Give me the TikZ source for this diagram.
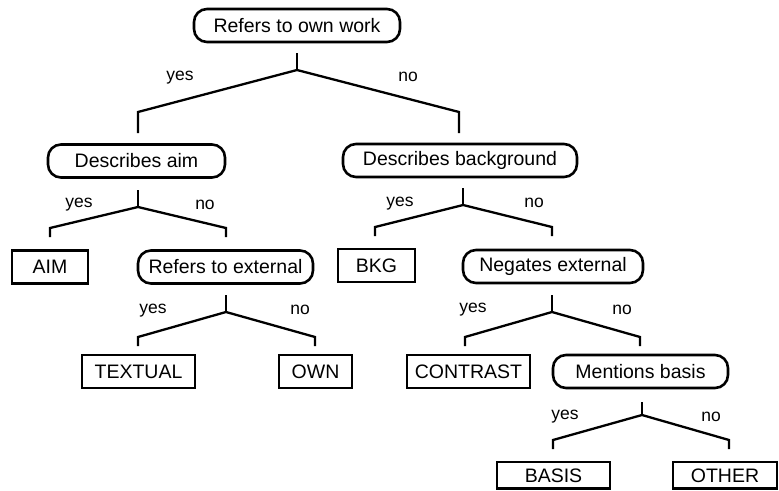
\documentclass[tikz,border=0pt]{standalone}
\usepackage{fontspec}
\setmainfont{Liberation Sans}
\begin{document}
\begin{tikzpicture}[x=1pt,y=-1pt,
  question/.style={draw, line width=2.6pt, rounded corners=13pt, inner sep=0pt,
    minimum height=33pt, font=\fontsize{19.5}{22}\selectfont},
  leaf/.style={draw, line width=2.6pt, inner sep=0pt,
    minimum height=33pt, font=\fontsize{19.5}{22}\selectfont},
  fork/.style={line width=2.3pt, line join=miter},
  answer/.style={font=\fontsize{17.5}{20}\selectfont, inner sep=0pt}]
\useasboundingbox (0,0) rectangle (779,490);

% decision nodes
\node[question, minimum width=206pt] (own)   at (297,25.5)   {Refers to own work};
\node[question, minimum width=177pt] (aim)   at (136.5,161)  {Describes aim};
\node[question, minimum width=234pt] (bg)    at (460,160.5)  {Describes background};
\node[question, minimum width=175pt] (ext)   at (225.5,267)  {Refers to external};
\node[question, minimum width=180pt] (neg)   at (553,266.5)  {Negates external};
\node[question, minimum width=175pt] (basq)  at (640.5,371.5){Mentions basis};

% category leaves
\node[leaf, minimum width=76pt]  (AIM)      at (50,267)     {AIM};
\node[leaf, minimum width=77pt]  (BKG)      at (376.5,265.5){BKG};
\node[leaf, minimum width=113pt] (TEXTUAL)  at (138.5,371.5){TEXTUAL};
\node[leaf, minimum width=73pt]  (OWN)      at (315.5,371.5){OWN};
\node[leaf, minimum width=123pt] (CONTRAST) at (468.5,371.5){CONTRAST};
\node[leaf, minimum width=113pt, minimum height=26.5pt] (BASIS) at (553.5,475.3){BASIS};
\node[leaf, minimum width=104pt, minimum height=26.5pt] (OTHER) at (725,475.3)  {OTHER};

% fork points below each decision
\coordinate (own-s) at (297,53);  \coordinate (own-j) at (297,70);
\coordinate (own-l) at (138,112); \coordinate (own-le) at (138,133);
\coordinate (own-r) at (459,112); \coordinate (own-re) at (459,133);

\coordinate (aim-s) at (138,190); \coordinate (aim-j) at (138,207);
\coordinate (aim-l) at (50,228);  \coordinate (aim-le) at (50,237);
\coordinate (aim-r) at (226,228); \coordinate (aim-re) at (226,237);

\coordinate (bg-s) at (463,188);  \coordinate (bg-j) at (463,205);
\coordinate (bg-l) at (375,227);  \coordinate (bg-le) at (375,236);
\coordinate (bg-r) at (552,227);  \coordinate (bg-re) at (552,236);

\coordinate (ext-s) at (226,295); \coordinate (ext-j) at (226,312);
\coordinate (ext-l) at (138,337); \coordinate (ext-le) at (138,346);
\coordinate (ext-r) at (315,337); \coordinate (ext-re) at (315,346);

\coordinate (neg-s) at (552,295); \coordinate (neg-j) at (552,312);
\coordinate (neg-l) at (465,337); \coordinate (neg-le) at (465,346);
\coordinate (neg-r) at (640,337); \coordinate (neg-re) at (640,346);

\coordinate (basq-s) at (642,402); \coordinate (basq-j) at (642,415);
\coordinate (basq-l) at (553,440); \coordinate (basq-le) at (553,449);
\coordinate (basq-r) at (729,440); \coordinate (basq-re) at (729,449);

% forks
\foreach \n in {own,aim,bg,ext,neg,basq}{
  \draw[fork] (\n-s) -- (\n-j);
  \draw[fork] (\n-le) -- (\n-l) -- (\n-j) -- (\n-r) -- (\n-re);
}

% branch answers
\node[answer] (own-yes)  at (180,78)  {yes};
\node[answer] (own-no)   at (408,77)  {no};
\node[answer] (aim-yes)  at (79,205)  {yes};
\node[answer] (aim-no)   at (205,205) {no};
\node[answer] (bg-yes)   at (400,204) {yes};
\node[answer] (bg-no)    at (534,203) {no};
\node[answer] (ext-yes)  at (153,311) {yes};
\node[answer] (ext-no)   at (300,310) {no};
\node[answer] (neg-yes)  at (473,310) {yes};
\node[answer] (neg-no)   at (622,310) {no};
\node[answer] (basq-yes) at (565,417) {yes};
\node[answer] (basq-no)  at (711,417) {no};
\end{tikzpicture}
\end{document}
